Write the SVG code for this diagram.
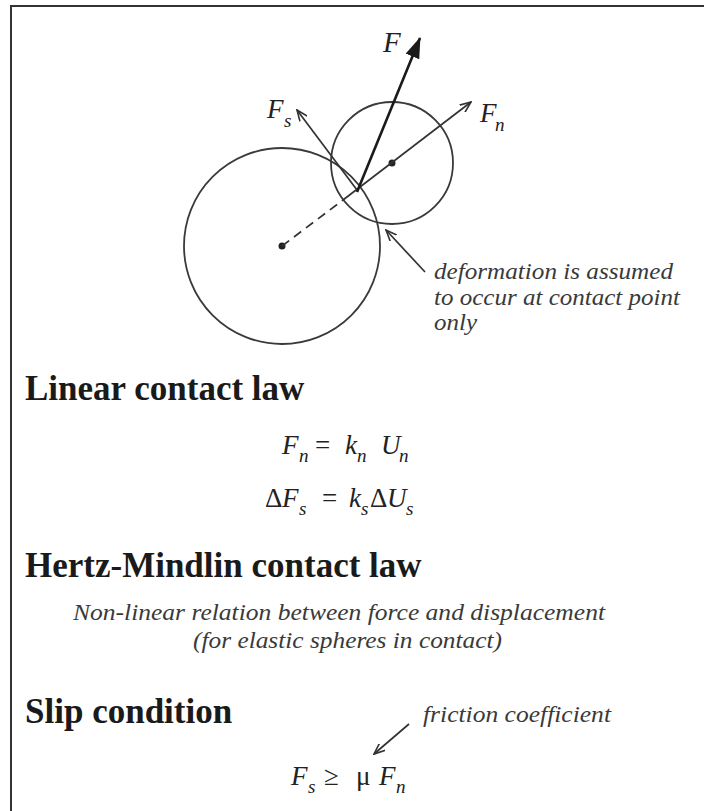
<svg xmlns="http://www.w3.org/2000/svg" width="704" height="811" viewBox="0 0 704 811">
<style>
text{font-family:"Liberation Serif","Times New Roman",serif;}
.head{font-size:35px;font-weight:bold;fill:#1a1a1a;}
.note{font-size:23px;font-style:italic;fill:#3a3a3a;}
.eq{font-size:27px;font-style:italic;fill:#222;}
.sub{font-size:19px;}
.up{font-style:normal;}
.lbl{font-size:27px;font-style:italic;fill:#222;}
.ln{stroke:#333;stroke-width:1.7;fill:none;}
.circ{stroke:#3a3a3a;stroke-width:1.8;fill:none;}
</style>
<defs>
<marker id="open" viewBox="0 0 12 10" refX="11" refY="5" markerWidth="12" markerHeight="10" markerUnits="userSpaceOnUse" orient="auto"><path d="M0,0.5 L11,5 L0,9.5" fill="none" stroke="#333" stroke-width="1.6"/></marker>
<marker id="solid" viewBox="0 0 20 14" refX="19" refY="7" markerWidth="21" markerHeight="15" markerUnits="userSpaceOnUse" orient="auto"><path d="M0,0 L20,7 L0,14 Z" fill="#1a1a1a"/></marker>
</defs>
<rect x="0" y="0" width="704" height="811" fill="#fff"/>
<g id="frame"><rect x="11" y="6" width="760" height="860" fill="none" stroke="#333" stroke-width="2"/></g>

<g id="particle-large"><circle class="circ" cx="282" cy="246" r="98"/><circle cx="282" cy="246" r="3.5" fill="#222"/></g>
<g id="particle-small"><circle class="circ" cx="392" cy="163" r="61"/><circle cx="392" cy="163" r="3.5" fill="#222"/></g>

<g id="connectors">
<line class="ln" x1="282" y1="246" x2="343" y2="200" stroke-dasharray="9 6"/>
<line class="ln" x1="343" y1="200" x2="471" y2="102" marker-end="url(#open)"/>
<line class="ln" x1="357" y1="190" x2="297" y2="110" marker-end="url(#open)"/>
<line x1="357" y1="192" x2="420" y2="38" stroke="#1a1a1a" stroke-width="2.6" marker-end="url(#solid)"/>
<line class="ln" x1="425" y1="272" x2="386" y2="230" marker-end="url(#open)"/>
<line class="ln" x1="409" y1="724" x2="374" y2="754" marker-end="url(#open)"/>
</g>

<g id="label-F"><text class="lbl" x="383" y="52" style="font-size:29px">F</text></g>
<g id="label-Fs"><text class="lbl" x="267" y="118">F<tspan class="sub" x="284" y="127">s</tspan></text></g>
<g id="label-Fn"><text class="lbl" x="480" y="122">F<tspan class="sub" x="495" y="131">n</tspan></text></g>

<g id="note-deformation">
<text class="note" x="434" y="279" textLength="239" lengthAdjust="spacingAndGlyphs">deformation is assumed</text>
<text class="note" x="434" y="305" textLength="246" lengthAdjust="spacingAndGlyphs">to occur at contact point</text>
<text class="note" x="434" y="330" textLength="43" lengthAdjust="spacingAndGlyphs">only</text>
</g>

<g id="linear-law">
<text class="head" x="25" y="400">Linear contact law</text>
<text class="eq"><tspan x="282" y="454">F</tspan><tspan class="sub" x="299" y="462">n</tspan><tspan class="up" x="315" y="454">=</tspan><tspan x="345" y="454">k</tspan><tspan class="sub" x="357" y="462">n</tspan><tspan x="381" y="454">U</tspan><tspan class="sub" x="399" y="462">n</tspan></text>
<text class="eq"><tspan class="up" x="265" y="507">Δ</tspan><tspan x="282" y="507">F</tspan><tspan class="sub" x="299" y="515">s</tspan><tspan class="up" x="322" y="507">=</tspan><tspan x="349" y="507">k</tspan><tspan class="sub" x="361" y="515">s</tspan><tspan class="up" x="370" y="507">Δ</tspan><tspan x="387" y="507">U</tspan><tspan class="sub" x="406" y="515">s</tspan></text>
</g>

<g id="hertz-law">
<text class="head" x="25" y="577">Hertz-Mindlin contact law</text>
<text class="note" x="73" y="620" textLength="532" lengthAdjust="spacingAndGlyphs">Non-linear relation between force and displacement</text>
<text class="note" x="193" y="648" textLength="309" lengthAdjust="spacingAndGlyphs">(for elastic spheres in contact)</text>
</g>

<g id="slip-condition">
<text class="head" x="25" y="723">Slip condition</text>
<text class="note" x="423" y="722" textLength="188" lengthAdjust="spacingAndGlyphs">friction coefficient</text>
<text class="eq"><tspan x="291" y="785">F</tspan><tspan class="sub" x="308" y="793">s</tspan><tspan class="up" x="324" y="785">≥</tspan><tspan class="up" x="356" y="785">μ</tspan><tspan x="379" y="785">F</tspan><tspan class="sub" x="396" y="793">n</tspan></text>
</g>
</svg>
